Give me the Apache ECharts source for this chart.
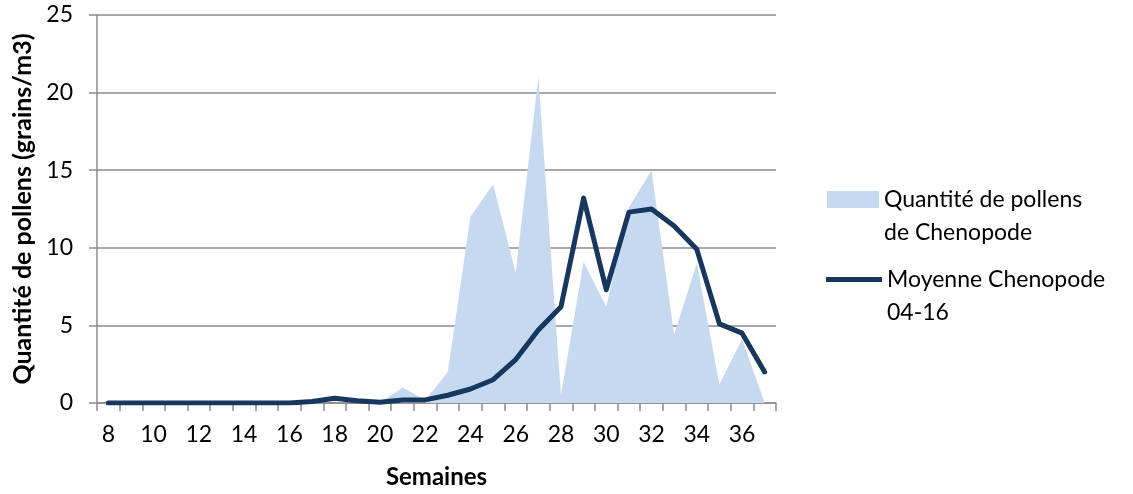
<!DOCTYPE html>
<html><head><meta charset="utf-8">
<script src="https://cdn.jsdelivr.net/npm/echarts@6/dist/echarts.min.js"></script>
<style>html,body{margin:0;padding:0;background:#fff}#c{width:1133px;height:494px}</style>
</head><body><div id="c"></div>
<script>
const weeks = ['8','9','10','11','12','13','14','15','16','17','18','19','20','21','22','23','24','25','26','27','28','29','30','31','32','33','34','35','36','37'];
const pollen = [0,0,0,0,0,0,0,0,0,0,0,0,0,1.0,0.2,2.0,12.0,14.1,8.4,21.0,0.5,9.1,6.2,12.6,15.0,4.4,9.0,1.2,4.1,0];
const moyenne = [0,0,0,0,0,0,0,0,0,0.1,0.3,0.15,0.05,0.2,0.2,0.5,0.9,1.5,2.8,4.7,6.2,13.2,7.3,12.3,12.5,11.4,9.9,5.1,4.5,2.0];
const yTicks = [0,5,10,15,20,25];
const S1 = 'Quantité de pollens de Chenopode';
const S2 = 'Moyenne Chenopode 04-16';

const F = 'Lato, "Open Sans", sans-serif';
const legText = {fontFamily:F,fontSize:23,color:'#000',lineHeight:33};
const chart = echarts.init(document.getElementById('c'));
chart.setOption({
  animation:false,
  textStyle:{fontFamily:F},
  grid:{left:97,right:357,top:15,bottom:91,containLabel:false,outerBoundsMode:'none'},
  legend:[
    {orient:'vertical', left:827, top:150, padding:0, itemWidth:52, itemHeight:17,
     textStyle:legText, formatter:function(){return ' \nQuantité de pollens\nde Chenopode';},
     data:[{name:S1,icon:'rect'}]},
    {orient:'vertical', left:826, top:230, padding:0, itemWidth:56, itemHeight:5,
     textStyle:legText, formatter:function(){return ' \nMoyenne Chenopode\n04-16';},
     data:[{name:S2,icon:'rect'}]}
  ],
  xAxis:{
    type:'category', data:weeks, boundaryGap:true,
    name:'Semaines', nameLocation:'middle', nameGap:62,
    nameTextStyle:{fontFamily:F,fontSize:24,fontWeight:'bold',color:'#000'},
    axisLine:{lineStyle:{color:'#8c8c8c',width:1.5}},
    axisTick:{show:true,interval:0,length:8,lineStyle:{color:'#8c8c8c',width:1.5}},
    axisLabel:{interval:1,fontSize:23,color:'#000',margin:20,fontFamily:F},
    splitLine:{show:false}
  },
  yAxis:{
    type:'value', min:0, max:25, interval:5,
    name:'Quantité de pollens (grains/m3)', nameLocation:'middle', nameGap:61, nameRotate:90,
    nameTextStyle:{fontFamily:F,fontSize:25,fontWeight:'bold',color:'#000'},
    axisLine:{show:true,lineStyle:{color:'#8c8c8c',width:1.5}},
    axisTick:{show:true,length:8,lineStyle:{color:'#8c8c8c',width:1.5}},
    axisLabel:{fontSize:23,color:'#000',margin:24,fontFamily:F,
      formatter:function(v){return yTicks.indexOf(v)>=0?String(v):'';}},
    splitLine:{show:true,lineStyle:{color:'#8c8c8c',width:1.5}}
  },
  series:[
    {name:S1, type:'line', data:pollen, symbol:'none',
     itemStyle:{color:'#C6D9F1'}, lineStyle:{width:0,color:'#C6D9F1'},
     areaStyle:{color:'#C6D9F1',opacity:1}, z:1},
    {name:S2, type:'line', data:moyenne, symbol:'none',
     itemStyle:{color:'#17375E'}, lineStyle:{width:5,color:'#17375E',cap:'round',join:'round'}, z:3}
  ]
});
</script></body></html>
